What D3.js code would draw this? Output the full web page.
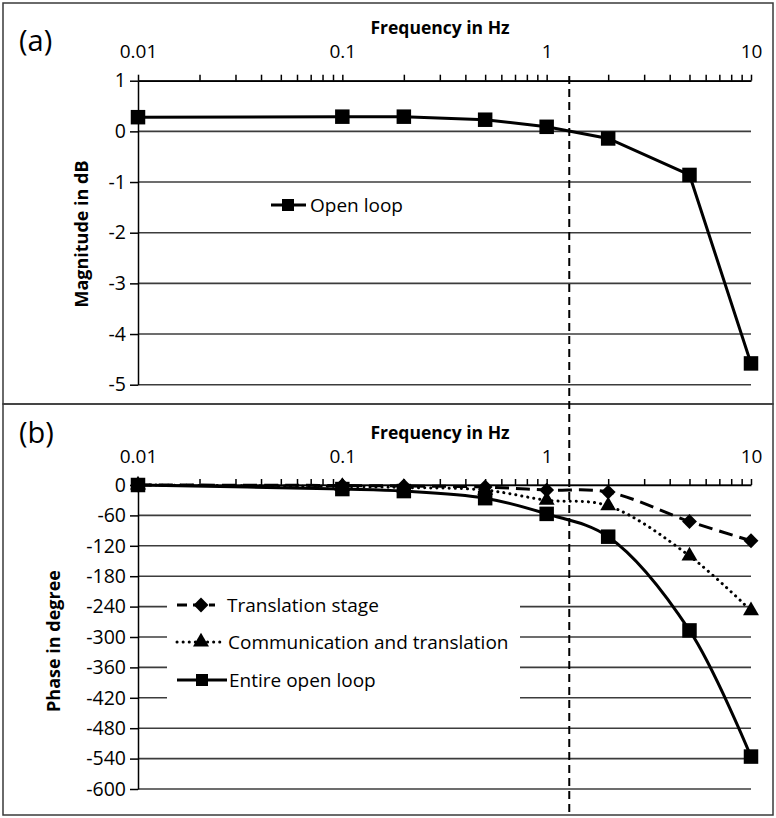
<!DOCTYPE html>
<html>
<head>
<meta charset="utf-8">
<script src="https://cdn.jsdelivr.net/npm/d3@7"></script>
<style>
  html, body { margin: 0; padding: 0; background: #fff; }
  svg { display: block; font-family: "Open Sans", "Noto Sans", sans-serif; }
</style>
</head>
<body>
<svg id="chart" width="776" height="818"></svg>
<script>
// ---------------- data ----------------
const freqs = [0.01, 0.1, 0.2, 0.5, 1, 2, 5, 10];
const magOpenLoop = [0.28, 0.29, 0.29, 0.23, 0.09, -0.14, -0.86, -4.58];
const phaseTranslation = [0, -1, -2, -4, -10, -14, -72, -110];
const phaseCommunication = [0, -3, -5, -10, -30, -41, -140, -248];
const phaseEntire = [0, -8, -12, -26, -57, -102, -287, -536];
const freqLabelTicks = [0.01, 0.1, 1, 10];
const magTicks = [1, 0, -1, -2, -3, -4, -5];
const phaseTicks = [0, -60, -120, -180, -240, -300, -360, -420, -480, -540, -600];
const crossoverFreq = 1.29;
const xTitle = "Frequency in Hz";
const magTitle = "Magnitude in dB";
const phaseTitle = "Phase in degree";
const magLegend = ["Open loop"];
const phaseLegend = ["Translation stage", "Communication and translation", "Entire open loop"];

// ---------------- layout ----------------
const svg = d3.select("#chart");
const X0 = 138, X1 = 751;
const x = d3.scaleLog().domain([0.01, 10]).range([X0, X1]);
const yMag = d3.scaleLinear().domain([-5, 1]).range([384.7, 80.7]);
const yPh = d3.scaleLinear().domain([-600, 0]).range([789, 485]);

// minor + major tick values for log axis
const allTicks = x.ticks();

// panel frames
svg.append("rect").attr("x", 3).attr("y", 3).attr("width", 770).attr("height", 401)
  .attr("fill", "none").attr("stroke", "#3a3a3a").attr("stroke-width", 1.5);
svg.append("rect").attr("x", 3).attr("y", 404).attr("width", 770).attr("height", 411)
  .attr("fill", "none").attr("stroke", "#3a3a3a").attr("stroke-width", 1.5);

function panel(y, ticks, opts) {
  const g = svg.append("g");
  // gridlines
  g.append("g").selectAll("line").data(ticks).join("line")
    .attr("x1", X0).attr("x2", X1)
    .attr("y1", d => y(d)).attr("y2", d => y(d))
    .attr("stroke", "#3c3c3c").attr("stroke-width", 1.6);
  // legend background
  g.append("rect").attr("x", opts.legendBox[0]).attr("y", opts.legendBox[1])
    .attr("width", opts.legendBox[2]).attr("height", opts.legendBox[3]).attr("fill", "#fff");
  // y axis
  const ya = g.append("g").attr("transform", `translate(${X0},0)`)
    .call(d3.axisLeft(y).tickValues(ticks).tickSize(8).tickSizeOuter(0).tickPadding(4)
      .tickFormat(d3.format("d")));
  ya.select(".domain").attr("stroke", "#000").attr("stroke-width", 1.5);
  ya.selectAll(".tick line").attr("stroke", "#000").attr("stroke-width", 1.5);
  ya.selectAll("text").attr("font-size", 19.5).attr("fill", "#000")
    .attr("font-family", "'Open Sans', sans-serif").text(d => d < 0 ? "-" + Math.abs(d) : d);
  // x axis (top)
  const topY = y(opts.topVal);
  const xa = g.append("g").attr("transform", `translate(0,${topY})`)
    .call(d3.axisTop(x).tickValues(allTicks).tickSize(6).tickSizeOuter(0).tickPadding(16.5)
      .tickFormat(d => freqLabelTicks.some(t => Math.abs(t - d) < 1e-9) ? String(+d.toPrecision(3)) : ""));
  xa.select(".domain").attr("stroke", "#000").attr("stroke-width", 1.5);
  xa.selectAll(".tick line").attr("stroke", "#000").attr("stroke-width", 1.5);
  xa.selectAll("text").attr("font-size", 19).attr("fill", "#000")
    .attr("font-family", "'Open Sans', sans-serif");
  // titles
  g.append("text").attr("x", 440).attr("y", opts.titleY).attr("text-anchor", "middle")
    .attr("font-size", 17.5).attr("font-weight", "bold").text(xTitle);
  g.append("text").attr("transform", `translate(${opts.yTitleX},${opts.yTitleC}) rotate(-90)`)
    .attr("text-anchor", "middle").attr("font-size", 18).attr("font-weight", "bold")
    .text(opts.yTitle);
  g.append("text").attr("x", 19).attr("y", opts.tagY).attr("font-size", 29).text(opts.tag);
  return g;
}

panel(yMag, magTicks, {
  topVal: 1, titleY: 34, yTitle: magTitle, yTitleX: 88, yTitleC: 234, tag: "(a)", tagY: 51,
  legendBox: [262, 190, 140, 30]
});
panel(yPh, phaseTicks, {
  topVal: 0, titleY: 439, yTitle: phaseTitle, yTitleX: 60, yTitleC: 641, tag: "(b)", tagY: 443,
  legendBox: [167, 588, 353, 112]
});

// crossover dashed line
svg.append("line").attr("x1", x(crossoverFreq)).attr("x2", x(crossoverFreq))
  .attr("y1", 76).attr("y2", 813)
  .attr("stroke", "#000").attr("stroke-width", 2).attr("stroke-dasharray", "8,5");

// marker helpers
const sq = d3.symbol(d3.symbolSquare, 14.5 * 14.5)();
const dia = d3.symbol(d3.symbolSquare, 10.5 * 10.5)();
const tri = d3.symbol(d3.symbolTriangle, 110)();

function series(values, y, curve, dash, marker, rot) {
  const pts = freqs.map((f, i) => [x(f), y(values[i])]);
  svg.append("path").attr("d", d3.line().curve(curve)(pts))
    .attr("fill", "none").attr("stroke", "#000").attr("stroke-width", 3)
    .attr("stroke-dasharray", dash).attr("stroke-linecap", dash === "0.1,6" ? "round" : "butt");
  svg.append("g").selectAll("path").data(pts).join("path")
    .attr("d", marker).attr("fill", "#000")
    .attr("transform", d => `translate(${d[0]},${d[1]}) rotate(${rot})`);
}

series(magOpenLoop, yMag, d3.curveLinear, null, sq, 0);
series(phaseTranslation, yPh, d3.curveCatmullRom, "14,7", dia, 45);
series(phaseCommunication, yPh, d3.curveCatmullRom, "0.1,6", tri, 0);
series(phaseEntire, yPh, d3.curveCatmullRom, null, sq, 0);

// legends
function legendRow(lx0, lx1, mx, yy, dash, marker, rot, label, tx) {
  svg.append("line").attr("x1", lx0).attr("x2", lx1).attr("y1", yy).attr("y2", yy)
    .attr("stroke", "#000").attr("stroke-width", 3)
    .attr("stroke-dasharray", dash).attr("stroke-linecap", dash === "0.1,6" ? "round" : "butt");
  svg.append("path").attr("d", marker).attr("fill", "#000")
    .attr("transform", `translate(${mx},${yy}) rotate(${rot})`);
  svg.append("text").attr("x", tx).attr("y", yy).attr("dy", "0.35em")
    .attr("font-size", 19).attr("fill", "#000").text(label);
}
const smallSq = d3.symbol(d3.symbolSquare, 12 * 12)();
legendRow(271, 306, 288, 205, null, smallSq, 0, magLegend[0], 310);
legendRow(177, 215, 201, 605, "10,6", dia, 45, phaseLegend[0], 227);
legendRow(177, 225, 201, 642, "0.1,6", tri, 0, phaseLegend[1], 228);
legendRow(177, 227, 202, 680, null, smallSq, 0, phaseLegend[2], 229);
</script>
</body>
</html>
